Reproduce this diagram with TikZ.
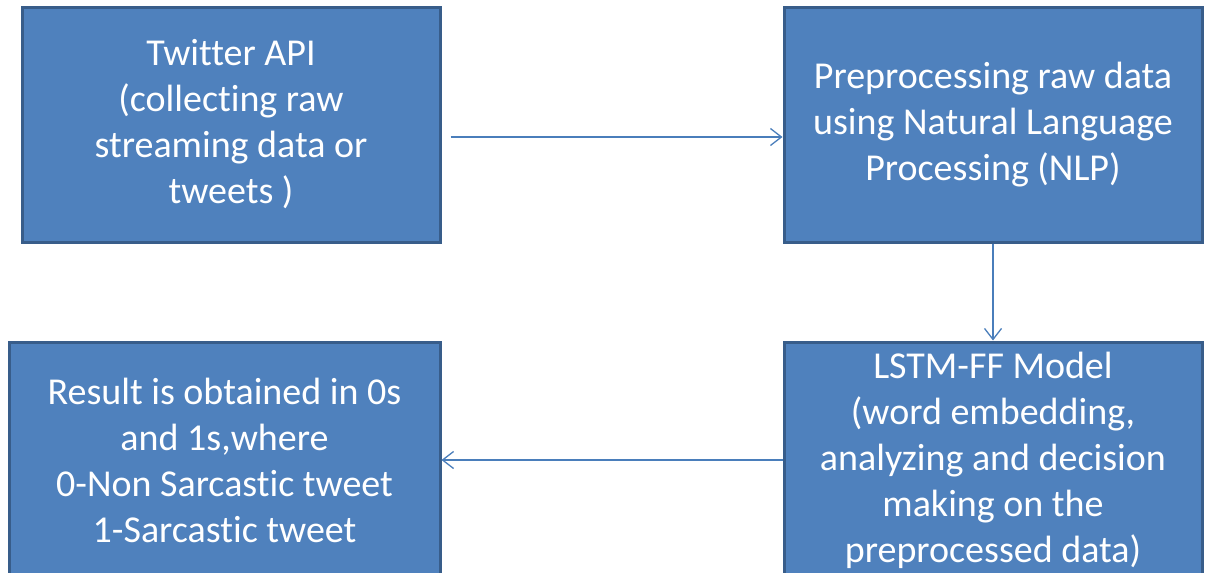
\documentclass[tikz,border=0pt]{standalone}
\usepackage{fontspec}
\setmainfont{Carlito}[Ligatures=NoCommon]
\usetikzlibrary{arrows.meta}
\definecolor{boxfill}{HTML}{4F81BD}
\definecolor{boxline}{HTML}{385D8A}
\definecolor{linkcol}{HTML}{4A7EBB}
\tikzset{
  stage/.style={rectangle, fill=boxfill, draw=boxline, line width=3pt,
    text=white, align=center, inner sep=0pt,
    font=\fontsize{38}{46}\selectfont},
  link/.style={draw=linkcol, line width=1.3pt,
    -{Straight Barb[length=11pt,width=17pt,line width=1.3pt]}}
}
\begin{document}
\begin{tikzpicture}[x=1pt,y=-1pt]
  \useasboundingbox (0,0) rectangle (1205,573);
  \begin{scope}
    \clip (0,0) rectangle (1205,573);
    \node[stage, minimum width=418pt, minimum height=235pt] (api) at (231,124.5)
      {Twitter API\\(collecting raw\\streaming data or\\tweets )};
    \node[stage, minimum width=418pt, minimum height=235pt] (prep) at (993,124.5)
      {Preprocessing raw data\\using Natural Language\\Processing (NLP)};
    \node[stage, minimum width=418pt, minimum height=236pt] (model) at (993,460)
      {LSTM-FF Model\\(word embedding,\\analyzing and decision\\making on the\\preprocessed data)};
    \node[stage, minimum width=431pt, minimum height=236pt] (result) at (224.5,460)
      {Result is obtained in 0s\\and 1s,where\\0-Non Sarcastic tweet\\1-Sarcastic tweet};
  \end{scope}
  \draw[link, shorten <=9pt] ([yshift=-12.5pt]api.east) -- ([yshift=-12.5pt]prep.west);
  \draw[link] (prep.south) -- (model.north);
  \draw[link] (model.west) -- (result.east);
\end{tikzpicture}
\end{document}
